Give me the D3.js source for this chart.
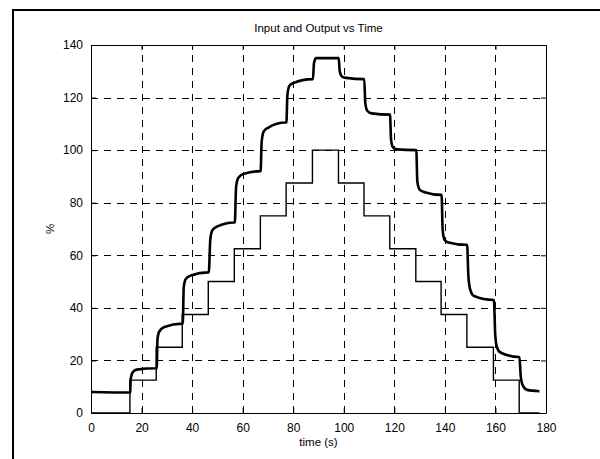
<!DOCTYPE html>
<html>
<head>
<meta charset="UTF-8">
<script src="https://d3js.org/d3.v7.min.js"></script>
<style>
  body { margin: 0; background: #fff; }
  text { font-family: "Liberation Sans", Arial, sans-serif; fill: #000; }
</style>
</head>
<body>
<div id="chart"></div>
<script>
// input (setpoint) step times and levels
const inputTimes  = [0, 15.4, 25.8, 36.1, 46.4, 56.7, 67.0, 77.2, 87.6, 97.9, 108.0, 118.2, 128.5, 138.5, 148.7, 159.2, 169.4, 177.4];
const inputLevels = [0, 12.5, 25, 37.5, 50, 62.5, 75, 87.5, 100, 87.5, 75, 62.5, 50, 37.5, 25, 12.5, 0, 0];

// measured output, points picked along the thick trace
const outputTimes = [
  0, 15.4,
  15.5, 15.7, 16.5, 18, 25.8,
  26, 26.3, 27, 29, 36,
  36.3, 36.7, 37.5, 39.5, 46.3,
  46.6, 47.2, 48, 50, 56.6,
  56.9, 57.4, 58.3, 60.5, 67,
  67.1, 67.5, 68.3, 70, 77,
  77.3, 77.7, 78.5, 80, 87.5,
  87.8, 88.2, 89, 97.7,
  98, 98.4, 99.3, 101, 108,
  108.1, 108.5, 109.3, 111, 118.2,
  118.3, 118.7, 119.5, 121, 128.5,
  128.7, 129.1, 130, 132, 138.5,
  138.7, 139.1, 139.8, 141, 148.6,
  148.8, 149.3, 150, 151.5, 159.2,
  159.4, 159.9, 160.6, 162, 169.3,
  169.5, 170, 170.8, 172.5, 177.4
];
const outputValues = [
  8, 7.8,
  8, 13, 15.5, 16.5, 17,
  17, 28, 31, 32.7, 34,
  34, 48, 51, 52.3, 53.5,
  53.5, 66, 69.5, 71, 72.5,
  72.5, 86, 89.5, 91, 92,
  92, 103, 107, 108.5, 110.5,
  110.5, 121, 124.5, 125.5, 127,
  127, 133, 135, 135,
  135, 130, 128, 127.5, 127,
  127, 118, 115, 114, 113.5,
  113.5, 104, 101, 100.3, 100,
  100, 88, 85, 84, 83,
  83, 70, 66, 65, 64,
  64, 52, 47, 44.5, 43,
  43, 30, 25, 23, 21.3,
  21.3, 14, 10.5, 8.8, 8.3
];

const xTicks = [0, 20, 40, 60, 80, 100, 120, 140, 160, 180];
const yTicks = [0, 20, 40, 60, 80, 100, 120, 140];

const W = 600, H = 459;
const plot = { left: 91, top: 45, right: 546, bottom: 413 };

const svg = d3.select("#chart").append("svg")
  .attr("width", W).attr("height", H);

// outer figure frame (runs off the right and bottom)
svg.append("rect")
  .attr("x", 13).attr("y", 10)
  .attr("width", 620).attr("height", 480)
  .attr("fill", "none").attr("stroke", "#000").attr("stroke-width", 2);

const x = d3.scaleLinear().domain([0, 180]).range([plot.left, plot.right]);
const y = d3.scaleLinear().domain([0, 140]).range([plot.bottom, plot.top]);

// dashed grid
const grid = svg.append("g").attr("stroke", "#000").attr("stroke-width", 1)
  .attr("stroke-dasharray", "7,6").attr("shape-rendering", "crispEdges");
grid.selectAll(".gx").data(xTicks.slice(1, -1)).enter().append("line")
  .attr("x1", d => Math.round(x(d)) + 0.5).attr("x2", d => Math.round(x(d)) + 0.5)
  .attr("y1", plot.bottom).attr("y2", plot.top);
grid.selectAll(".gy").data(yTicks.slice(1, -1)).enter().append("line")
  .attr("y1", d => Math.round(y(d)) + 0.5).attr("y2", d => Math.round(y(d)) + 0.5)
  .attr("x1", plot.left).attr("x2", plot.right);

// data lines
const inputLine = d3.line().curve(d3.curveStepAfter)
  .x((d, i) => x(inputTimes[i])).y(d => y(d));
svg.append("path").datum(inputLevels)
  .attr("d", inputLine)
  .attr("fill", "none").attr("stroke", "#000").attr("stroke-width", 1.4);

const outputLine = d3.line().curve(d3.curveMonotoneX)
  .x((d, i) => x(outputTimes[i])).y(d => y(d));
svg.append("path").datum(outputValues)
  .attr("d", outputLine)
  .attr("fill", "none").attr("stroke", "#000").attr("stroke-width", 2.6)
  .attr("stroke-linejoin", "round");

// axes, ticks pointing inward, box on all sides
const tickLen = 5;
svg.append("g").attr("transform", `translate(0,${plot.bottom})`)
  .call(d3.axisBottom(x).tickValues(xTicks).tickSizeInner(-tickLen).tickSizeOuter(0).tickPadding(10))
  .call(g => g.selectAll("text").attr("font-size", 12));
svg.append("g").attr("transform", `translate(0,${plot.top})`)
  .call(d3.axisTop(x).tickValues(xTicks).tickSizeInner(-tickLen).tickSizeOuter(0).tickFormat(""));
svg.append("g").attr("transform", `translate(${plot.left},0)`)
  .call(d3.axisLeft(y).tickValues(yTicks).tickSizeInner(-tickLen).tickSizeOuter(0).tickPadding(8))
  .call(g => g.selectAll("text").attr("font-size", 12));
svg.append("g").attr("transform", `translate(${plot.right},0)`)
  .call(d3.axisRight(y).tickValues(yTicks).tickSizeInner(-tickLen).tickSizeOuter(0).tickFormat(""));
svg.selectAll(".domain").attr("stroke", "#000");
svg.selectAll(".tick line").attr("stroke", "#000");

// labels
svg.append("text").attr("x", (plot.left + plot.right) / 2).attr("y", 32)
  .attr("text-anchor", "middle").attr("font-size", 11.5).text("Input and Output vs Time");
svg.append("text").attr("x", (plot.left + plot.right) / 2).attr("y", 446)
  .attr("text-anchor", "middle").attr("font-size", 11.5).text("time (s)");
svg.append("text")
  .attr("transform", `translate(54,${(plot.top + plot.bottom) / 2}) rotate(-90)`)
  .attr("text-anchor", "middle").attr("font-size", 11.5).text("%");
</script>
</body>
</html>
